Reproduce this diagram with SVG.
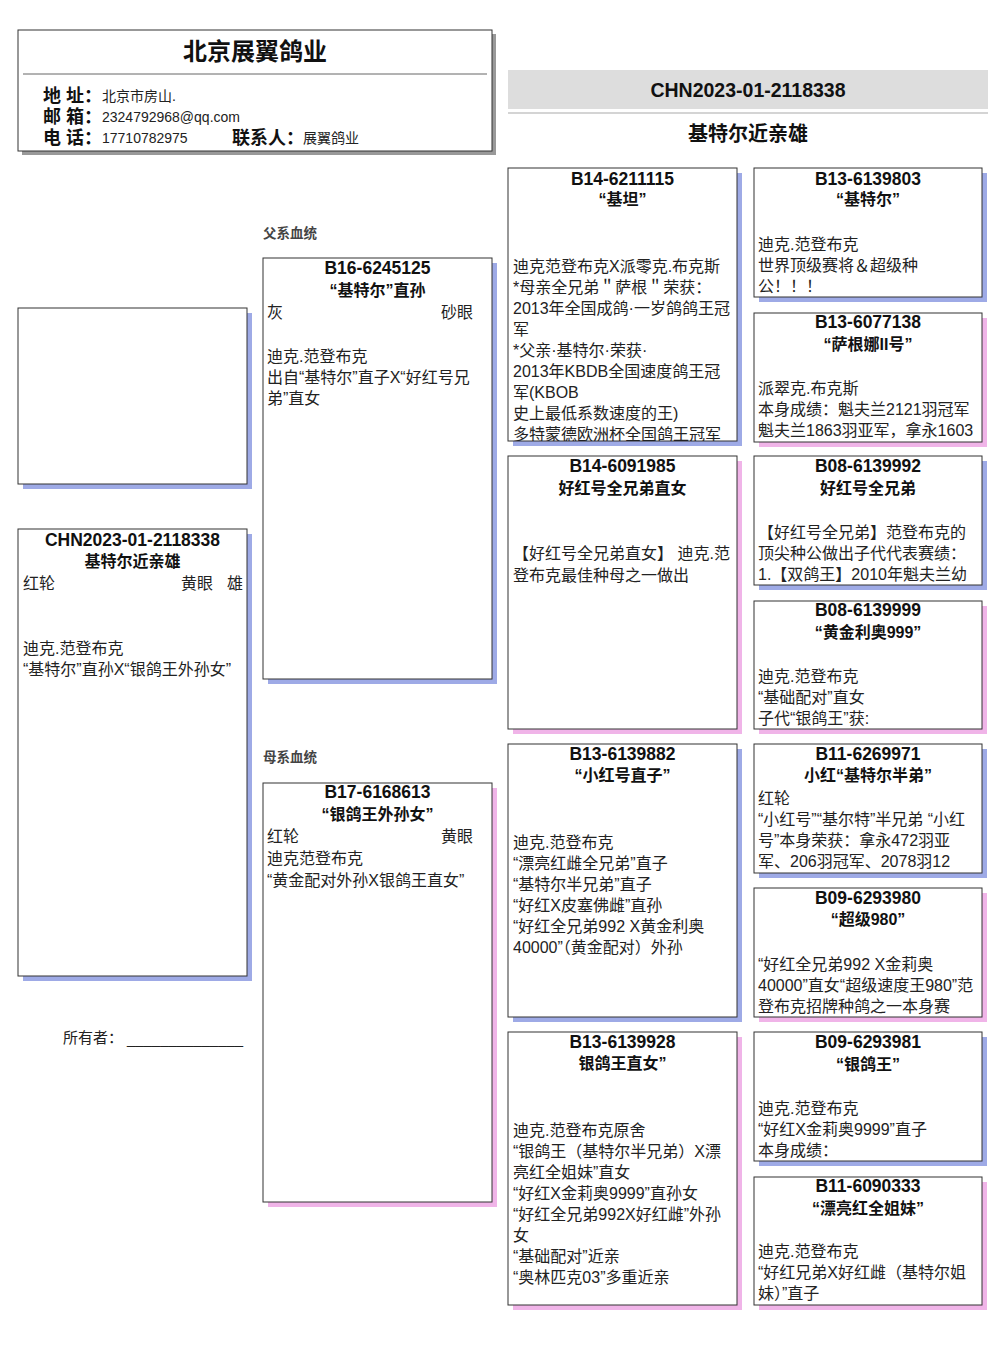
<svg xmlns="http://www.w3.org/2000/svg" width="1006" height="1366" viewBox="0 0 1006 1366">
<style>
text { font-family: "Liberation Sans", "Noto Sans CJK SC", sans-serif; fill: #1a1a1a; }
.id { font-size: 17.5px; font-weight: bold; text-anchor: middle; fill: #111; }
.nm { font-size: 16px; font-weight: bold; text-anchor: middle; fill: #111; }
.b { font-size: 16px; fill: #222; }
.r { text-anchor: end; }
.box { fill: #fff; stroke: #333; stroke-width: 1; }
.sb { fill: #9eaae6; }
.sp { fill: #f0b4e8; }
.lab { font-size: 13.5px; font-weight: bold; fill: #444; }
.hk { font-size: 18px; font-weight: bold; fill: #111; }
.hv { font-size: 14px; fill: #222; }
</style>
<defs>
<clipPath id="c1"><rect x="508" y="168" width="229" height="273"/></clipPath>
</defs>
<rect width="1006" height="1366" fill="#fff"/>

<g id="header">
<rect x="22" y="34" width="474" height="121" fill="#999"/>
<rect x="18" y="30" width="474" height="121" fill="#fff" stroke="#333"/>
<line x1="23" y1="74" x2="487" y2="74" stroke="#666" stroke-width="1"/>
<text x="255" y="60" text-anchor="middle" style="font-size:24px;font-weight:bold;fill:#111">北京展翼鸽业</text>
<text class="hk" x="43" y="102">地 址：</text><text class="hv" x="102" y="101">北京市房山.</text>
<text class="hk" x="43" y="123">邮 箱：</text><text class="hv" x="102" y="122">2324792968@qq.com</text>
<text class="hk" x="43" y="144">电 话：</text><text class="hv" x="102" y="143">17710782975</text>
<text class="hk" x="232" y="144">联系人：</text><text class="hv" x="303" y="143">展翼鸽业</text>
</g>

<g id="title-band">
<rect x="508" y="70" width="480" height="39" fill="#dddddd"/>
<rect x="508" y="112" width="480" height="2" fill="#d4d4d4"/>
<text x="748" y="97" text-anchor="middle" style="font-size:19.5px;font-weight:bold;fill:#111">CHN2023-01-2118338</text>
<text x="748" y="141" text-anchor="middle" style="font-size:20px;font-weight:bold;fill:#111">基特尔近亲雄</text>
</g>

<g id="connectors"></g>

<g id="photo">
<rect class="sb" x="23" y="313" width="229" height="176"/>
<rect class="box" x="18" y="308" width="229" height="176"/>
</g>

<g id="main-bird">
<rect class="sb" x="23" y="534" width="229" height="447"/>
<rect class="box" x="18" y="529" width="229" height="447"/>
<text class="id" x="132.5" y="546">CHN2023-01-2118338</text>
<text class="nm" x="132.5" y="567">基特尔近亲雄</text>
<text class="b" x="23" y="589">红轮</text>
<text class="b r" x="213" y="589">黄眼</text>
<text class="b r" x="243" y="589">雄</text>
<text class="b" x="23" y="654">迪克.范登布克</text>
<text class="b" x="23" y="675">“基特尔”直孙X“银鸽王外孙女”</text>
</g>

<g id="owner">
<text x="63" y="1043" style="font-size:15px;fill:#222">所有者：</text>
<text x="127" y="1044" textLength="116" lengthAdjust="spacingAndGlyphs" style="font-size:15px;fill:#222">______________</text>
</g>

<g id="sire-label"><text class="lab" x="263" y="238">父系血统</text></g>
<g id="dam-label"><text class="lab" x="263" y="762">母系血统</text></g>

<g id="sire">
<rect class="sb" x="268" y="263" width="229" height="421"/>
<rect class="box" x="263" y="258" width="229" height="421"/>
<text class="id" x="377.5" y="274">B16-6245125</text>
<text class="nm" x="377.5" y="296">“基特尔”直孙</text>
<text class="b" x="267" y="318">灰</text>
<text class="b r" x="473" y="318">砂眼</text>
<text class="b" x="267" y="362">迪克.范登布克</text>
<text class="b" x="267" y="383">出自“基特尔”直子X“好红号兄</text>
<text class="b" x="267" y="404">弟”直女</text>
</g>

<g id="dam">
<rect class="sp" x="268" y="788" width="229" height="419"/>
<rect class="box" x="263" y="783" width="229" height="419"/>
<text class="id" x="377.5" y="798">B17-6168613</text>
<text class="nm" x="377.5" y="820">“银鸽王外孙女”</text>
<text class="b" x="267" y="842">红轮</text>
<text class="b r" x="473" y="842">黄眼</text>
<text class="b" x="267" y="864">迪克范登布克</text>
<text class="b" x="267" y="886">“黄金配对外孙X银鸽王直女”</text>
</g>

<g id="ss">
<rect class="sb" x="513" y="173" width="229" height="273"/>
<rect class="box" x="508" y="168" width="229" height="273"/>
<text class="id" x="622.5" y="185">B14-6211115</text>
<text class="nm" x="622.5" y="205">“基坦”</text>
<g clip-path="url(#c1)">
<text class="b" x="513" y="272">迪克范登布克X派零克.布克斯</text>
<text class="b" x="513" y="293">*母亲全兄弟＂萨根＂荣获：</text>
<text class="b" x="513" y="314">2013年全国成鸽·一岁鸽鸽王冠</text>
<text class="b" x="513" y="335">军</text>
<text class="b" x="513" y="356">*父亲·基特尔·荣获·</text>
<text class="b" x="513" y="377">2013年KBDB全国速度鸽王冠</text>
<text class="b" x="513" y="398">军(KBOB</text>
<text class="b" x="513" y="419">史上最低系数速度的王)</text>
<text class="b" x="513" y="440">多特蒙德欧洲杯全国鸽王冠军</text>
</g>
</g>

<g id="sd">
<rect class="sp" x="513" y="461" width="229" height="273"/>
<rect class="box" x="508" y="456" width="229" height="273"/>
<text class="id" x="622.5" y="472">B14-6091985</text>
<text class="nm" x="622.5" y="494">好红号全兄弟直女</text>
<text class="b" x="513" y="559">【好红号全兄弟直女】 迪克.范</text>
<text class="b" x="513" y="581">登布克最佳种母之一做出</text>
</g>

<g id="ds">
<rect class="sb" x="513" y="749" width="229" height="273"/>
<rect class="box" x="508" y="744" width="229" height="273"/>
<text class="id" x="622.5" y="760">B13-6139882</text>
<text class="nm" x="622.5" y="781">“小红号直子”</text>
<text class="b" x="513" y="848">迪克.范登布克</text>
<text class="b" x="513" y="869">“漂亮红雌全兄弟”直子</text>
<text class="b" x="513" y="890">“基特尔半兄弟”直子</text>
<text class="b" x="513" y="911">“好红X皮塞佛雌”直孙</text>
<text class="b" x="513" y="932">“好红全兄弟992 X黄金利奥</text>
<text class="b" x="513" y="953">40000”（黄金配对）外孙</text>
</g>

<g id="dd">
<rect class="sp" x="513" y="1037" width="229" height="273"/>
<rect class="box" x="508" y="1032" width="229" height="273"/>
<text class="id" x="622.5" y="1048">B13-6139928</text>
<text class="nm" x="622.5" y="1069">银鸽王直女”</text>
<text class="b" x="513" y="1136">迪克.范登布克原舍</text>
<text class="b" x="513" y="1157">“银鸽王（基特尔半兄弟）X漂</text>
<text class="b" x="513" y="1178">亮红全姐妹”直女</text>
<text class="b" x="513" y="1199">“好红X金莉奥9999”直孙女</text>
<text class="b" x="513" y="1220">“好红全兄弟992X好红雌”外孙</text>
<text class="b" x="513" y="1241">女</text>
<text class="b" x="513" y="1262">“基础配对”近亲</text>
<text class="b" x="513" y="1283">“奥林匹克03”多重近亲</text>
</g>

<g id="sss">
<rect class="sb" x="759" y="173" width="228" height="129"/>
<rect class="box" x="754" y="168" width="228" height="129"/>
<text class="id" x="868" y="185">B13-6139803</text>
<text class="nm" x="868" y="205">“基特尔”</text>
<text class="b" x="758" y="250">迪克.范登布克</text>
<text class="b" x="758" y="271">世界顶级赛将＆超级种</text>
<text class="b" x="758" y="292">公！！！</text>
</g>

<g id="ssd">
<rect class="sp" x="759" y="318" width="228" height="129"/>
<rect class="box" x="754" y="313" width="228" height="129"/>
<text class="id" x="868" y="328">B13-6077138</text>
<text class="nm" x="868" y="350">“萨根娜II号”</text>
<text class="b" x="758" y="394">派翠克.布克斯</text>
<text class="b" x="758" y="415">本身成绩：魁夫兰2121羽冠军</text>
<text class="b" x="758" y="436">魁夫兰1863羽亚军，拿永1603</text>
</g>

<g id="sds">
<rect class="sb" x="759" y="461" width="228" height="129"/>
<rect class="box" x="754" y="456" width="228" height="129"/>
<text class="id" x="868" y="472">B08-6139992</text>
<text class="nm" x="868" y="494">好红号全兄弟</text>
<text class="b" x="758" y="538">【好红号全兄弟】范登布克的</text>
<text class="b" x="758" y="559">顶尖种公做出子代代表赛绩：</text>
<text class="b" x="758" y="580">1.【双鸽王】2010年魁夫兰幼</text>
</g>

<g id="sdd">
<rect class="sp" x="759" y="606" width="228" height="128"/>
<rect class="box" x="754" y="601" width="228" height="128"/>
<text class="id" x="868" y="616">B08-6139999</text>
<text class="nm" x="868" y="638">“黄金利奥999”</text>
<text class="b" x="758" y="682">迪克.范登布克</text>
<text class="b" x="758" y="703">“基础配对”直女</text>
<text class="b" x="758" y="724">子代“银鸽王”获:</text>
</g>

<g id="dss">
<rect class="sb" x="759" y="749" width="228" height="129"/>
<rect class="box" x="754" y="744" width="228" height="129"/>
<text class="id" x="868" y="760">B11-6269971</text>
<text class="nm" x="868" y="781">小红“基特尔半弟”</text>
<text class="b" x="758" y="804">红轮</text>
<text class="b" x="758" y="825">“小红号”“基尔特”半兄弟 “小红</text>
<text class="b" x="758" y="846">号”本身荣获：拿永472羽亚</text>
<text class="b" x="758" y="867">军、206羽冠军、2078羽12</text>
</g>

<g id="dsd">
<rect class="sp" x="759" y="893" width="228" height="129"/>
<rect class="box" x="754" y="888" width="228" height="129"/>
<text class="id" x="868" y="904">B09-6293980</text>
<text class="nm" x="868" y="925">“超级980”</text>
<text class="b" x="758" y="970">“好红全兄弟992 X金莉奥</text>
<text class="b" x="758" y="991">40000”直女“超级速度王980”范</text>
<text class="b" x="758" y="1012">登布克招牌种鸽之一本身赛</text>
</g>

<g id="dds">
<rect class="sb" x="759" y="1037" width="228" height="129"/>
<rect class="box" x="754" y="1032" width="228" height="129"/>
<text class="id" x="868" y="1048">B09-6293981</text>
<text class="nm" x="868" y="1070">“银鸽王”</text>
<text class="b" x="758" y="1114">迪克.范登布克</text>
<text class="b" x="758" y="1135">“好红X金莉奥9999”直子</text>
<text class="b" x="758" y="1156">本身成绩：</text>
</g>

<g id="ddd">
<rect class="sp" x="759" y="1182" width="228" height="128"/>
<rect class="box" x="754" y="1177" width="228" height="128"/>
<text class="id" x="868" y="1192">B11-6090333</text>
<text class="nm" x="868" y="1214">“漂亮红全姐妹”</text>
<text class="b" x="758" y="1257">迪克.范登布克</text>
<text class="b" x="758" y="1278">“好红兄弟X好红雌（基特尔姐</text>
<text class="b" x="758" y="1299">妹）”直子</text>
</g>
</svg>
